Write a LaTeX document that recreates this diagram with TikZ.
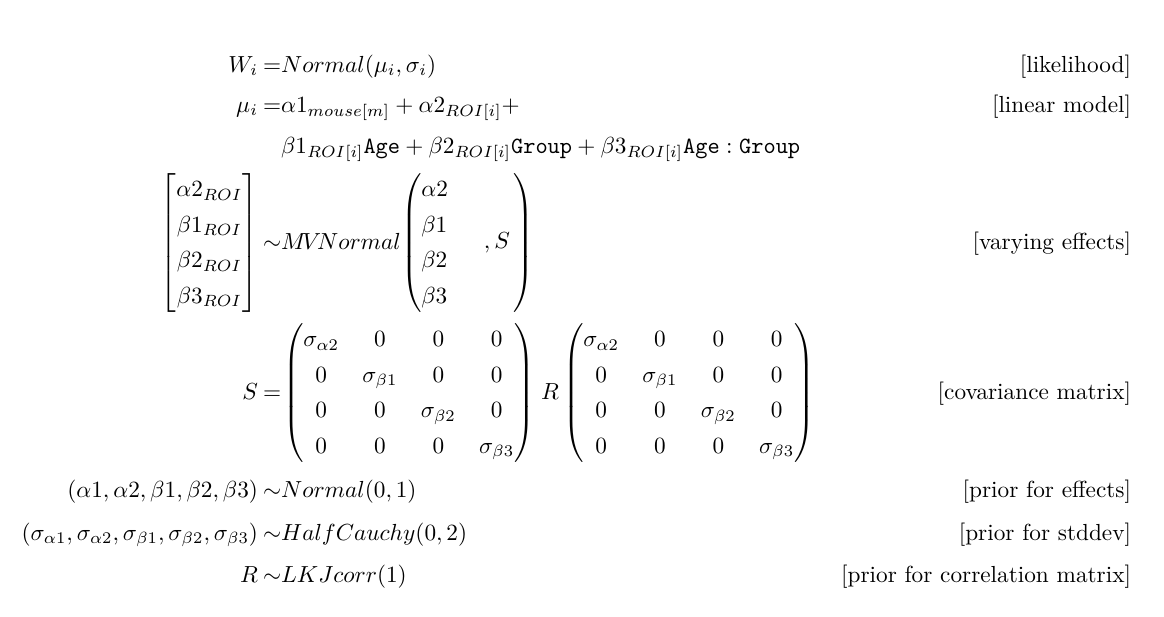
\documentclass[tikz,border=0pt]{standalone}
\usepackage{amsmath}
\usepackage{tikz}
\renewcommand{\arraystretch}{1.27}

\begin{document}
\begin{tikzpicture}[x=0.43pt, y=-0.43pt]
    \tikzstyle{every node}=[inner sep=0pt, outer sep=0pt]
    \tikzstyle{eqleft} = [anchor=base east]
    \tikzstyle{eqright} = [anchor=base west]
    \tikzstyle{eqtag} = [anchor=base east]
    \tikzstyle{mat} = [anchor=west]
    \useasboundingbox (0,0) rectangle (1164,616);
    % likelihood and linear model
    \node[eqleft] (Wi) at (258,72) {$W_i$};
    \node[eqright] (lik) at (263,72) {${=}Normal(\mu_i,\sigma_i)$};
    \node[eqleft] (mui) at (258,112) {$\mu_i$};
    \node[eqright] (lin1) at (263,112) {${=}\alpha1_{mouse[m]} + \alpha2_{ROI[i]}+$};
    \node[eqright] (lin2) at (281,153) {$\beta1_{ROI[i]}\texttt{Age} + \beta2_{ROI[i]}\texttt{Group} + \beta3_{ROI[i]}\texttt{Age}:\texttt{Group}$};
    % varying effects
    \node[mat, anchor=east] (effvec) at (258,243) {$\begin{bmatrix}\alpha2_{ROI}\\ \beta1_{ROI}\\ \beta2_{ROI}\\ \beta3_{ROI}\end{bmatrix}$};
    \node[eqright] (mvn) at (263,249) {${\sim}M\!V\!Normal$};
    \node[mat] (mvmean) at (401,243) {$\begin{pmatrix}\begin{array}{@{}l@{}}\alpha2\\ \beta1\\ \beta2\\ \beta3\end{array} & \hspace{5.5pt},S\,\end{pmatrix}$};
    % covariance matrix
    \node[eqleft] (S) at (258,399) {$S$};
    \node[eqright] (eqS) at (263,399) {${=}$};
    \node[mat] (Smat) at (283,393) {$\begin{pmatrix}\sigma_{\alpha2}&0&0&0\\ 0&\sigma_{\beta1}&0&0\\ 0&0&\sigma_{\beta2}&0\\ 0&0&0&\sigma_{\beta3}\end{pmatrix}$};
    \node[eqright] (R) at (541,399) {$R$};
    \node[mat] (Rmat) at (563,393) {$\begin{pmatrix}\sigma_{\alpha2}&0&0&0\\ 0&\sigma_{\beta1}&0&0\\ 0&0&\sigma_{\beta2}&0\\ 0&0&0&\sigma_{\beta3}\end{pmatrix}$};
    % priors
    \node[eqleft] (effs) at (258,497) {$(\alpha1,\alpha2,\beta1,\beta2,\beta3)$};
    \node[eqright] (effprior) at (263,497) {${\sim}Normal(0,1)$};
    \node[eqleft] (sigs) at (258,540) {$(\sigma_{\alpha1},\sigma_{\alpha2},\sigma_{\beta1},\sigma_{\beta2},\sigma_{\beta3})$};
    \node[eqright] (sigprior) at (263,540) {${\sim}HalfCauchy(0,2)$};
    \node[eqleft] (Rcorr) at (258,582) {$R$};
    \node[eqright] (Rprior) at (263,582) {${\sim}LKJcorr(1)$};
    % tags
    \foreach \y/\t in {72/likelihood, 112/linear model, 249/varying effects, 399/covariance matrix, 497/prior for effects, 540/prior for stddev, 582/prior for correlation matrix}
        \node[eqtag] (tag\y) at (1131,\y) {[\t]};
\end{tikzpicture}
\end{document}
